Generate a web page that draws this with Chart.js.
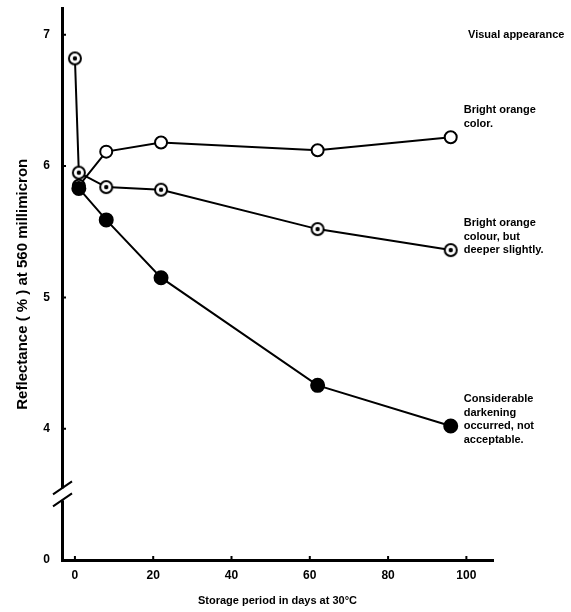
<!DOCTYPE html>
<html lang="en">
<head>
<meta charset="UTF-8">
<title>Reflectance during storage</title>
<script src="https://cdn.jsdelivr.net/npm/chart.js@4.4.0/dist/chart.umd.min.js"></script>
<style>
  body { margin: 0; background: #fff; }
  .graph-container { width: 571px; height: 612px; }
</style>
</head>
<body>
<div class="graph-container"><canvas id="myChart"></canvas></div>
<script>
// storage days and reflectance (%)
const daysBright = [1, 8, 22, 62, 96];
const reflBright = [5.85, 6.11, 6.18, 6.12, 6.22];
const daysDeeper = [0, 1, 8, 22, 62, 96];
const reflDeeper = [6.82, 5.95, 5.84, 5.82, 5.52, 5.36];
const daysDark = [1, 8, 22, 62, 96];
const reflDark = [5.83, 5.59, 5.15, 4.33, 4.02];

const xTicks = [0, 20, 40, 60, 80, 100];
const yTicks = [3, 4, 5, 6, 7];
const yTickLabels = ['0', '4', '5', '6', '7'];   // axis is broken below 4, bottom shows 0

const noteHeader = 'Visual appearance';
const noteBright = ['Bright orange', 'color.'];
const noteDeeper = ['Bright orange', 'colour, but', 'deeper slightly.'];
const noteDark = ['Considerable', 'darkening', 'occurred, not', 'acceptable.'];

const FONT = '"Liberation Sans", Arial, sans-serif';

function toPoints(xs, ys) {
  return xs.map((x, i) => ({ x: x, y: ys[i] }));
}

// open circle with a dot in the middle
function dottedCircle() {
  const c = document.createElement('canvas');
  c.width = 16; c.height = 16;
  const g = c.getContext('2d');
  g.beginPath(); g.arc(8, 8, 6, 0, Math.PI * 2);
  g.fillStyle = '#fff'; g.fill();
  g.lineWidth = 2; g.strokeStyle = '#000'; g.stroke();
  g.beginPath(); g.arc(8, 8, 2.2, 0, Math.PI * 2);
  g.fillStyle = '#000'; g.fill();
  return c;
}

const extras = {
  id: 'extras',
  afterDraw(chart) {
    const ctx = chart.ctx;
    const xs = chart.scales.x, ys = chart.scales.y;
    const area = chart.chartArea;
    ctx.save();
    ctx.strokeStyle = '#000';
    ctx.lineWidth = 2;

    // small tick marks on the inside of the axes
    ctx.beginPath();
    xTicks.forEach(v => {
      const px = xs.getPixelForValue(v);
      ctx.moveTo(px, area.bottom); ctx.lineTo(px, area.bottom - 4);
    });
    yTicks.slice(1).forEach(v => {
      const py = ys.getPixelForValue(v);
      ctx.moveTo(area.left, py); ctx.lineTo(area.left + 4, py);
    });
    ctx.stroke();

    // axis break
    const L = area.left;
    const by = ys.getPixelForValue(3.5);
    ctx.fillStyle = '#fff';
    ctx.fillRect(L - 3, by - 6, 6, 12);
    ctx.beginPath();
    ctx.moveTo(L - 9, by); ctx.lineTo(L + 10, by - 13);
    ctx.moveTo(L - 9, by + 12); ctx.lineTo(L + 10, by - 1);
    ctx.stroke();

    // notes on the right
    ctx.fillStyle = '#000';
    ctx.font = 'bold 11px ' + FONT;
    ctx.textAlign = 'left';
    ctx.textBaseline = 'middle';
    ctx.fillText(noteHeader, area.right - 25, ys.getPixelForValue(7));
    const notes = [
      [noteBright, daysBright, reflBright],
      [noteDeeper, daysDeeper, reflDeeper],
      [noteDark, daysDark, reflDark]
    ];
    notes.forEach(([lines, d, r]) => {
      const n = d.length - 1;
      const px = xs.getPixelForValue(d[n]) + 13;
      const py = ys.getPixelForValue(r[n]) - 27;
      lines.forEach((t, i) => ctx.fillText(t, px, py + i * 13.5));
    });
    ctx.restore();
  }
};

const lineStyle = {
  showLine: true,
  borderColor: '#000',
  borderWidth: 2,
  pointBorderColor: '#000',
  pointBorderWidth: 2,
  pointRadius: 6,
  tension: 0
};

const ctx = document.getElementById('myChart').getContext('2d');
const chart = new Chart(ctx, {
  type: 'scatter',
  data: {
    datasets: [
      Object.assign({}, lineStyle, {
        label: 'darkening',
        data: toPoints(daysDark, reflDark),
        pointBackgroundColor: '#000',
        pointRadius: 6.5
      }),
      Object.assign({}, lineStyle, {
        label: 'deeper slightly',
        data: toPoints(daysDeeper, reflDeeper),
        pointStyle: dottedCircle()
      }),
      Object.assign({}, lineStyle, {
        label: 'bright orange',
        data: toPoints(daysBright, reflBright),
        pointBackgroundColor: '#fff'
      })
    ]
  },
  options: {
    responsive: true,
    maintainAspectRatio: false,
    animation: false,
    events: [],
    layout: { padding: { left: 10, top: 7, right: 78, bottom: 0 } },
    plugins: {
      legend: { display: false },
      tooltip: { enabled: false }
    },
    scales: {
      x: {
        type: 'linear',
        min: -3.3,
        max: 106.8,
        afterBuildTicks: s => { s.ticks = xTicks.map(v => ({ value: v })); },
        afterFit: s => { s.height = 52; s.paddingLeft = 0; s.paddingRight = 0; },
        grid: { display: false, drawTicks: false },
        border: { display: true, color: '#000', width: 3 },
        ticks: { color: '#000', padding: 8, font: { family: FONT, size: 12, weight: 'bold' } },
        title: {
          display: true,
          text: 'Storage period in days at 30°C',
          color: '#000',
          font: { family: FONT, size: 11, weight: 'bold' }
        }
      },
      y: {
        type: 'linear',
        min: 3,
        max: 7.2,
        afterBuildTicks: s => { s.ticks = yTicks.map(v => ({ value: v })); },
        afterFit: s => { s.width = 52; s.paddingTop = 0; s.paddingBottom = 0; },
        grid: { display: false, drawTicks: false },
        border: { display: true, color: '#000', width: 3 },
        ticks: {
          color: '#000',
          padding: 12,
          font: { family: FONT, size: 12, weight: 'bold' },
          callback: v => yTickLabels[yTicks.indexOf(v)]
        },
        title: {
          display: true,
          text: 'Reflectance ( % ) at 560 millimicron',
          color: '#000',
          font: { family: FONT, size: 15, weight: 'bold' }
        }
      }
    }
  },
  plugins: [extras]
});
</script>
</body>
</html>
